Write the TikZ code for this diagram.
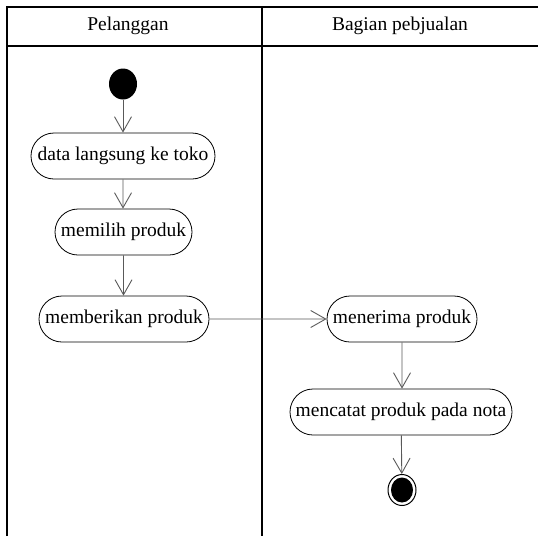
\documentclass[tikz,border=0pt]{standalone}
\usepackage{fontspec}
\setmainfont{Liberation Serif}
\usetikzlibrary{shapes.misc,shapes.geometric,arrows.meta}
\begin{document}
\begin{tikzpicture}[x=1pt,y=-1pt,
  lane/.style={line width=1.3pt,black},
  activity/.style={rounded rectangle,draw=black,line width=0.8pt,fill=white,
    minimum height=46pt,inner xsep=4pt,font=\fontsize{19.5}{23}\selectfont},
  flow/.style={draw=black!65,line width=0.9pt,
    -{Straight Barb[length=15pt,width=17pt,line width=0.9pt]}},
  lanetitle/.style={font=\fontsize{19.5}{23}\selectfont}]
  \useasboundingbox (0,0) rectangle (538,536);

  % swimlane frame
  \draw[lane] (7,536) -- (7,7) -- (538,7);
  \draw[lane] (7,46) -- (538,46);
  \draw[lane] (262,7) -- (262,536);
  \node[lanetitle] (lanePel) at (128,26) {Pelanggan};
  \node[lanetitle] (laneBag) at (400,26) {Bagian pebjualan};

  % initial node
  \node[ellipse,fill=black,minimum width=28pt,minimum height=31pt,inner sep=0pt] (start) at (123,84) {};

  % activities
  \node[activity,minimum width=192pt] (datang) at (123,156) {data langsung ke toko};
  \node[activity,minimum width=145pt] (pilih) at (123.5,232) {memilih produk};
  \node[activity,minimum width=178pt] (beri) at (124,319) {memberikan produk};
  \node[activity,minimum width=158pt] (terima) at (402,319) {menerima produk};
  \node[activity,minimum width=230pt] (catat) at (401,412) {mencatat produk pada nota};

  % final node
  \node[ellipse,draw=black,line width=1pt,fill=white,minimum width=28pt,minimum height=31pt,inner sep=0pt] (akhir) at (402,490) {};
  \node[ellipse,fill=black,minimum width=22pt,minimum height=25pt,inner sep=0pt] (akhirIsi) at (402,490) {};

  % control flows
  \draw[flow] (start) -- (datang);
  \draw[flow] (datang) -- (datang.south |- pilih.north);
  \draw[flow] (pilih) -- (pilih.south |- beri.north);
  \draw[flow] (beri) -- (terima);
  \draw[flow] (terima) -- (terima.south |- catat.north);
  \draw[flow] (catat) -- (akhir);
\end{tikzpicture}
\end{document}
